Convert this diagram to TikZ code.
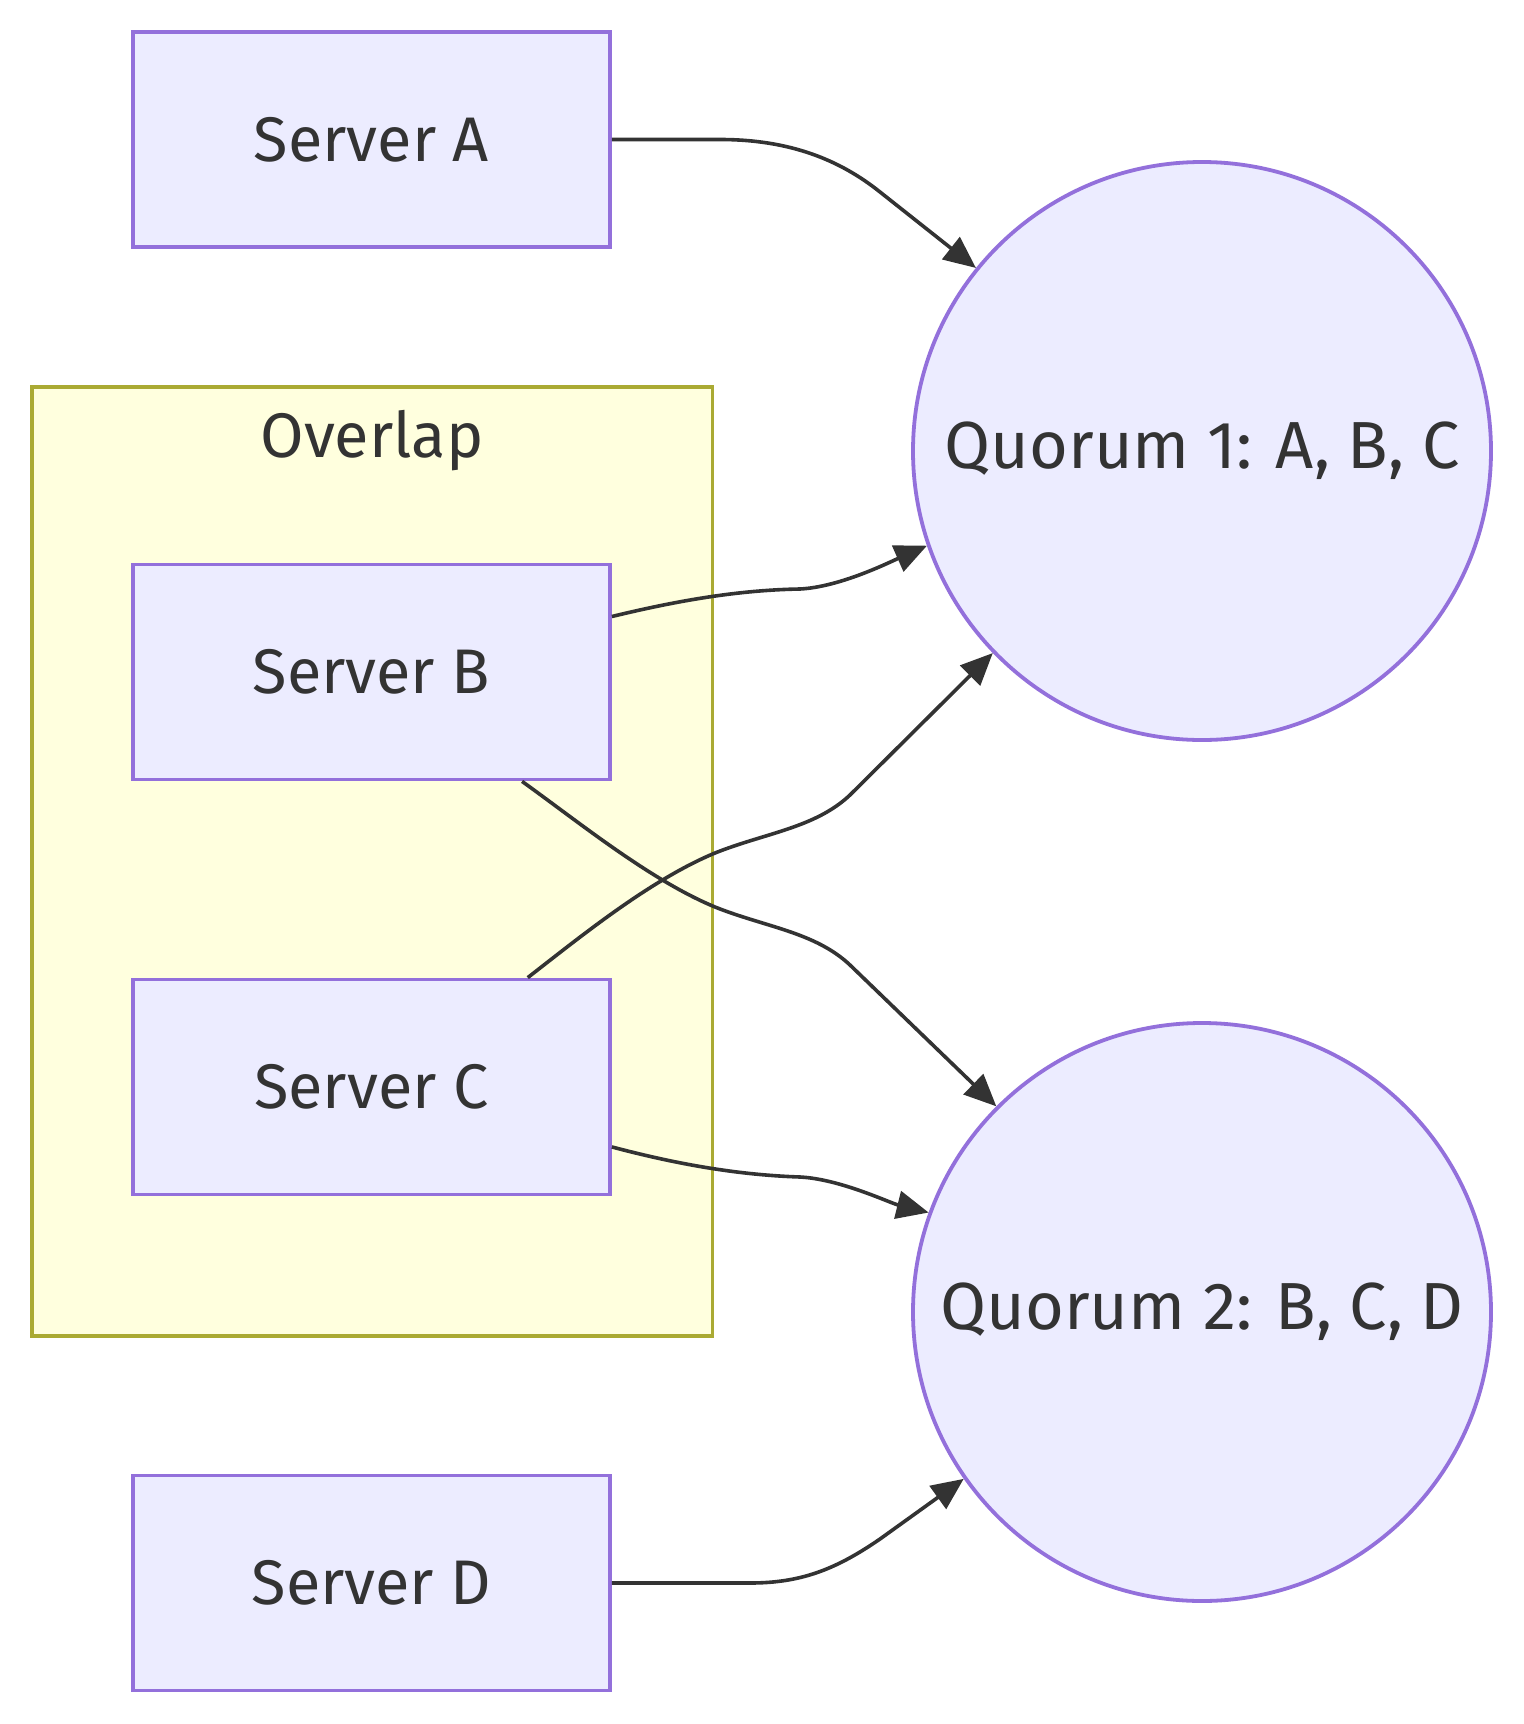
\documentclass[tikz,border=0pt]{standalone}
\usepackage{fontspec}
\setmainfont{Fira Sans}
\usetikzlibrary{arrows.meta}
\definecolor{nodefill}{HTML}{ECECFF}
\definecolor{nodeline}{HTML}{9370DB}
\definecolor{clusterfill}{HTML}{FFFFDE}
\definecolor{clusterline}{HTML}{AAAA33}
\definecolor{ink}{HTML}{333333}
\begin{document}
\begin{tikzpicture}[x=0.5pt,y=-0.5pt,
  labelfont/.style={text=ink, font=\fontsize{31.5}{37}\selectfont},
  server/.style={draw=nodeline, fill=nodefill, line width=1.9pt, minimum width=238.5pt, minimum height=107.5pt, inner sep=0pt, labelfont},
  quorum/.style={circle, draw=nodeline, fill=nodefill, line width=1.9pt, minimum size=289pt, inner sep=0pt, text=ink, font=\fontsize{33.3}{39}\selectfont},
  cluster/.style={draw=clusterline, fill=clusterfill, line width=1.9pt},
  link/.style={draw=ink, line width=1.8pt, -{Triangle[length=16pt,width=14pt]}}]
\useasboundingbox (0,0) rectangle (1524,1724);
% cluster
\draw[cluster] (32,387) rectangle (712.5,1336);
\node[labelfont, anchor=base] (overlap) at (372,457) {Overlap};
% nodes
\node[server] (a) at (371.5,139.5) {Server A};
\node[server] (b) at (371.5,672) {Server B};
\node[server] (c) at (371.5,1087) {Server C};
\node[server] (d) at (371.5,1583) {Server D};
\node[quorum] (q1) at (1202,451) {Quorum 1: A, B, C};
\node[quorum] (q2) at (1202,1312) {Quorum 2: B, C, D};
% connectors
\draw[link] (a.east) -- (720,139.5) .. controls (790,139.5) and (840,160) .. (880,192) -- (q1.141.5);
\draw[link] (b.13.3) .. controls (680,600) and (740,590) .. (800,589) .. controls (840,587) and (890,562) .. (q1.199.4);
\draw[link] (c.35.7) .. controls (580,937) and (650,880) .. (715,853) .. controls (765,833) and (815,828) .. (850,795) -- (q1.224.7);
\draw[link] (b.-36.5) .. controls (580,823) and (650,880) .. (715,907) .. controls (765,927) and (815,932) .. (850,965) -- (q2.135);
\draw[link] (c.-14) .. controls (680,1165) and (740,1175) .. (800,1177) .. controls (840,1179) and (890,1203) .. (q2.160.4);
\draw[link] (d.east) -- (750,1583) .. controls (800,1583) and (835,1570) .. (880,1539) -- (q2.215);
\end{tikzpicture}
\end{document}
